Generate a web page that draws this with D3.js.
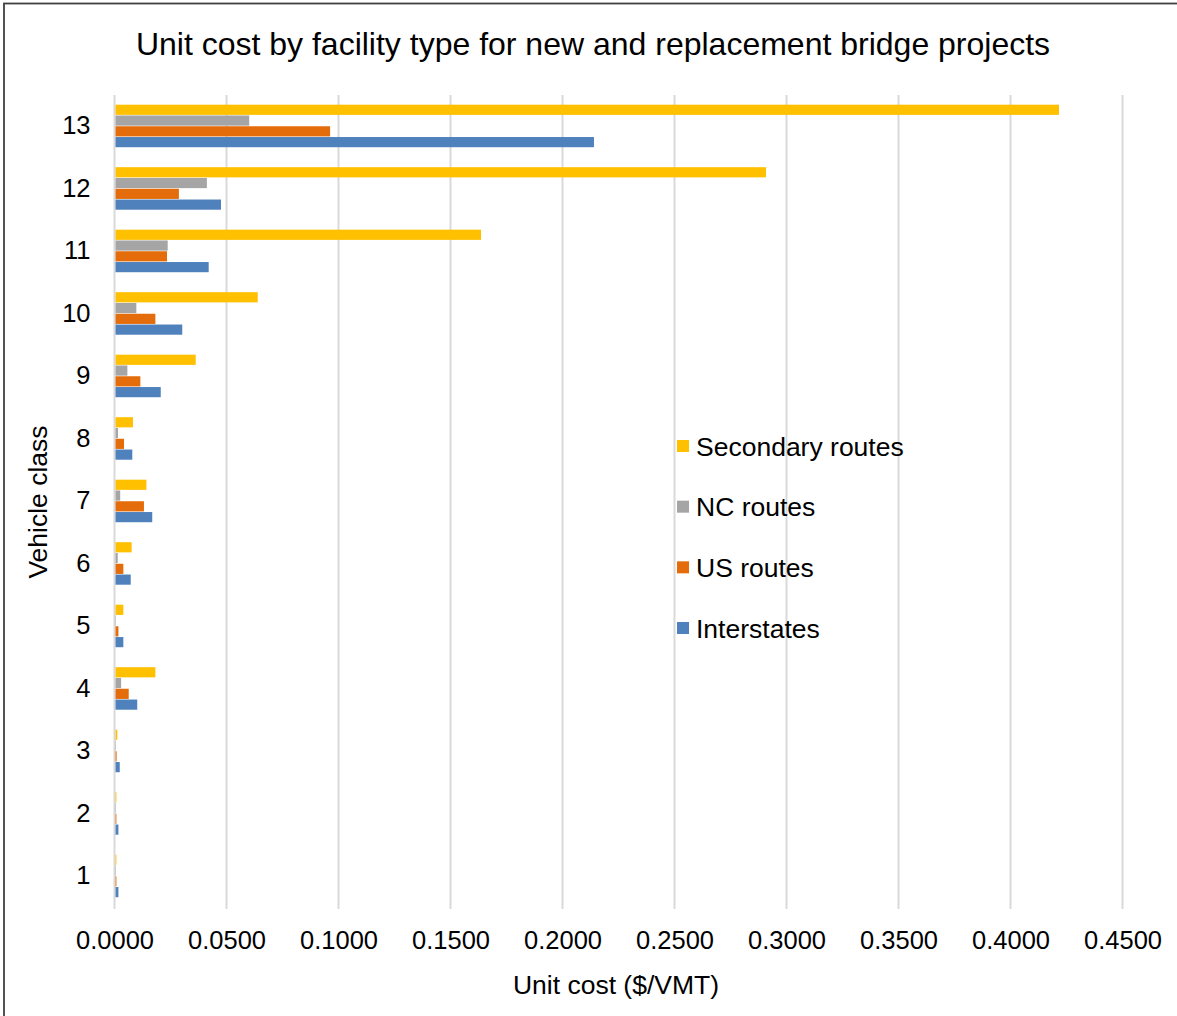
<!DOCTYPE html>
<html>
<head>
<meta charset="utf-8">
<script src="https://cdn.jsdelivr.net/npm/d3@7"></script>
<style>
  html, body { margin: 0; padding: 0; background: #fff; }
  svg text { font-family: "Liberation Sans", Arial, sans-serif; fill: #000; }
</style>
</head>
<body>
<svg id="chart" width="1177" height="1016"></svg>
<script>
const classes = ["1","2","3","4","5","6","7","8","9","10","11","12","13"];
const seriesNames = ["Secondary routes","NC routes","US routes","Interstates"];
const seriesColors = ["#FFC000","#A5A5A5","#E46C0A","#4F81BD"];
const secondary   = [0.0004,0.0004,0.0008,0.0178,0.0035,0.0072,0.0138,0.0078,0.0358,0.0635,0.1632,0.2904,0.4212];
const ncRoutes    = [0.0002,0.0002,0.0002,0.0025,0.0002,0.0010,0.0021,0.0011,0.0053,0.0093,0.0233,0.0408,0.0597];
const usRoutes    = [0.0004,0.0004,0.0005,0.0059,0.0013,0.0035,0.0127,0.0038,0.0111,0.0178,0.0230,0.0283,0.0958];
const interstates = [0.0013,0.0013,0.0019,0.0097,0.0035,0.0068,0.0164,0.0075,0.0202,0.0298,0.0416,0.0471,0.2136];
const xTicks = [0,0.05,0.1,0.15,0.2,0.25,0.3,0.35,0.4,0.45];
const titleText = "Unit cost by facility type for new and replacement bridge projects";
const xTitle = "Unit cost ($/VMT)";
const yTitle = "Vehicle class";

const seriesValues = [secondary, ncRoutes, usRoutes, interstates];

const svg = d3.select("#chart");
const W = 1177, H = 1016;
const plot = {left: 114.5, right: 1122.5, top: 95, bottom: 907.5};

// outer frame
svg.append("rect").attr("x", 4).attr("y", 3.5).attr("width", W + 20).attr("height", H + 20)
  .attr("fill", "#fff").attr("stroke", "#404040").attr("stroke-width", 1.8);

const x = d3.scaleLinear().domain([0, 0.45]).range([plot.left, plot.right]);
const y = d3.scaleBand().domain(classes.slice().reverse()).range([plot.top, plot.bottom])
  .paddingInner(0.31).paddingOuter(0.155);
const ys = d3.scaleBand().domain(seriesNames).range([0, y.bandwidth()]);

// gridlines
svg.append("g").selectAll("line").data(xTicks).join("line")
  .attr("x1", d => x(d)).attr("x2", d => x(d))
  .attr("y1", plot.top).attr("y2", plot.bottom + 1.5)
  .attr("stroke", "#D9D9D9").attr("stroke-width", 2);

// bars
const rows = [];
classes.forEach((c, i) => {
  seriesNames.forEach((s, j) => rows.push({c, s, j, v: seriesValues[j][i]}));
});
svg.append("g").selectAll("rect").data(rows).join("rect")
  .attr("x", x(0) + 1)
  .attr("y", d => y(d.c) + ys(d.s))
  .attr("width", d => Math.max(0, x(d.v) - x(0)))
  .attr("height", ys.bandwidth() - 0.6)
  .attr("fill", d => seriesColors[d.j]);

// x axis tick labels
const xAxis = d3.axisBottom(x).tickValues(xTicks).tickSize(0).tickPadding(0)
  .tickFormat(d3.format(".4f"));
const gx = svg.append("g").attr("transform", `translate(0, ${plot.bottom + 23})`).call(xAxis);
gx.select(".domain").remove();
gx.selectAll("text").attr("font-size", 25.5).attr("font-family", "Liberation Sans, Arial, sans-serif").attr("fill", "#000");

// y axis labels
const yAxis = d3.axisLeft(y).tickSize(0).tickPadding(0);
const gy = svg.append("g").attr("transform", `translate(${plot.left - 24}, 0)`).call(yAxis);
gy.select(".domain").remove();
gy.selectAll("text").attr("font-size", 25.5).attr("font-family", "Liberation Sans, Arial, sans-serif").attr("fill", "#000");

// title
svg.append("text").attr("x", 593).attr("y", 55).attr("text-anchor", "middle")
  .attr("font-size", 32).text(titleText);

// axis titles
svg.append("text").attr("x", 616).attr("y", 994).attr("text-anchor", "middle")
  .attr("font-size", 26.5).text(xTitle);
svg.append("text").attr("transform", "translate(47, 502) rotate(-90)")
  .attr("text-anchor", "middle").attr("font-size", 26.5).text(yTitle);

// legend
const legendY = d3.scalePoint().domain(seriesNames).range([446, 628]);
const lg = svg.append("g").selectAll("g").data(seriesNames).join("g")
  .attr("transform", d => `translate(677, ${legendY(d)})`);
lg.append("rect").attr("x", 0).attr("y", -6).attr("width", 12).attr("height", 12)
  .attr("fill", (d, i) => seriesColors[i]);
lg.append("text").attr("x", 19).attr("y", 9.5).attr("font-size", 26.5).text(d => d);
</script>
</body>
</html>
